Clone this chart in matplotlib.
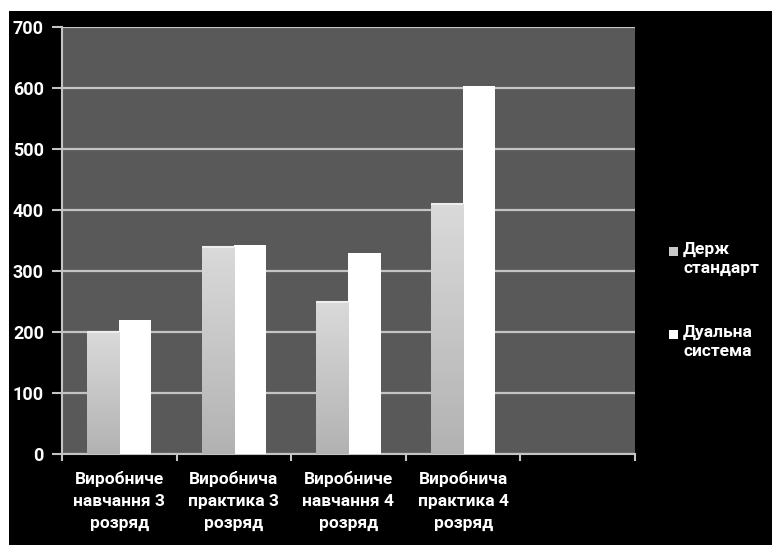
import numpy as np
import matplotlib
matplotlib.use('Agg')
import matplotlib.pyplot as plt
from matplotlib.colors import LinearSegmentedColormap
from matplotlib.patches import Rectangle

plt.rcParams['font.family'] = ['Roboto', 'DejaVu Sans']
plt.rcParams['font.weight'] = 'bold'

categories = ['Виробниче\nнавчання 3\nрозряд', 'Виробнича\nпрактика 3\nрозряд',
              'Виробниче\nнавчання 4\nрозряд', 'Виробнича\nпрактика 4\nрозряд']
derzh = [200, 340, 250, 410]
dual = [220, 343, 330, 604]
series_names = ['Держ\nстандарт', 'Дуальна\nсистема']
yticks = [0, 100, 200, 300, 400, 500, 600, 700]

fig = plt.figure(figsize=(7.72, 5.45), dpi=100)
fig.patch.set_facecolor('white')
# black chart area
fig.patches.append(Rectangle((9 / 772, 0), 1 - 9 / 772, 1 - 11 / 545,
                             transform=fig.transFigure, facecolor='black',
                             edgecolor='none', zorder=-10))

ax = fig.add_axes([62 / 772, 1 - 454 / 545, (635 - 62) / 772, (454 - 27) / 545])
ax.set_facecolor('#595959')

ind = np.arange(len(categories))
width = 0.28
grey_cmap = LinearSegmentedColormap.from_list('g', ['#b2b2b2', '#dadada'])

rects1 = ax.bar(ind - width / 2, derzh, width, color='#c8c8c8', zorder=3)
rects2 = ax.bar(ind + width / 2, dual, width, color='white', zorder=3)

# vertical gradient on the grey bars
grad = np.linspace(0, 1, 256).reshape(-1, 1)
for r in rects1:
    x0, y0 = r.get_x(), r.get_y()
    im = ax.imshow(grad, cmap=grey_cmap, origin='lower', aspect='auto',
                   extent=[x0, x0 + r.get_width(), y0, y0 + r.get_height()],
                   zorder=4)
    im.set_clip_path(r)
    ax.plot([x0, x0 + r.get_width()], [r.get_height()] * 2, color='#eeeeee',
            lw=1.5, zorder=5, solid_capstyle='butt')

ax.set_xlim(-0.5, 4.5)
ax.set_ylim(0, 700)
ax.set_yticks(yticks)
ax.set_yticklabels([str(t) for t in yticks])
ax.yaxis.grid(True, color='#c4c4c4', linewidth=1.6)
ax.set_axisbelow(True)

ax.set_xticks(np.arange(-0.5, 5.0, 1.0))
ax.set_xticklabels([])
ax.set_xticks(ind, minor=True)
ax.set_xticklabels(categories, minor=True, color='white', fontsize=12.5,
                   fontweight='bold', linespacing=1.6)
ax.tick_params(axis='x', which='minor', length=0, pad=12)
ax.tick_params(axis='x', which='major', length=5, color='#c4c4c4', width=1.5)
ax.tick_params(axis='y', length=7, color='#c4c4c4', width=1.5,
               labelcolor='white', labelsize=13, pad=6)
for lab in ax.get_yticklabels():
    lab.set_fontweight('bold')

for s in ['top', 'right']:
    ax.spines[s].set_visible(False)
ax.spines['left'].set_color('#c4c4c4')
ax.spines['left'].set_linewidth(1.5)
ax.spines['bottom'].set_color('#c4c4c4')
ax.spines['bottom'].set_linewidth(1.5)

# legend
for i, (name, col) in enumerate(zip(series_names, ['#c8c8c8', 'white'])):
    ytop = [247, 330][i]
    fig.patches.append(Rectangle((669 / 772, 1 - (ytop + 9) / 545), 9 / 772, 9 / 545,
                                 transform=fig.transFigure, facecolor=col,
                                 edgecolor='none'))
    fig.text(683 / 772, 1 - (ytop - 5) / 545, name, color='white', fontsize=12.5,
             fontweight='bold', va='top', ha='left', linespacing=1.35)

fig.savefig('out.png', dpi=100, facecolor=fig.get_facecolor())
